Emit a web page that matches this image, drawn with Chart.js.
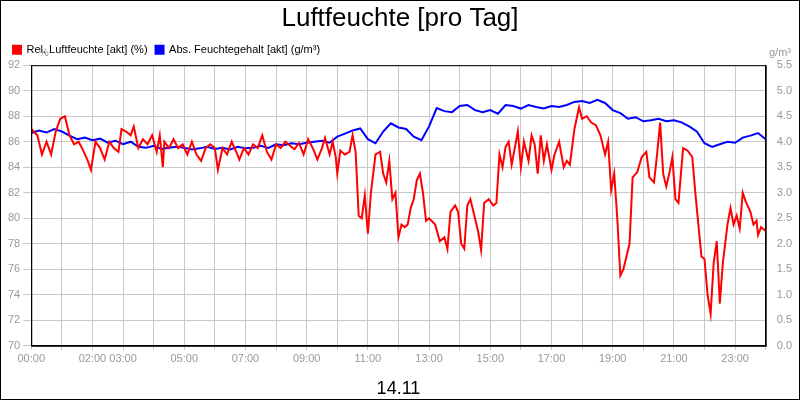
<!DOCTYPE html>
<html><head><meta charset="utf-8">
<script src="https://cdn.jsdelivr.net/npm/chart.js@4/dist/chart.umd.min.js"></script>
<style>
html,body{margin:0;padding:0;background:#fff}
#wrap{width:798px;height:398px;border:1px solid #000;position:relative}
</style></head><body>
<div id="wrap"><canvas id="c" width="798" height="398"></canvas></div>
<script>
// Rel. Luftfeuchte (%), Stunde des Tages
const relHours = [0,0.2,0.35,0.5,0.65,0.8,0.95,1.1,1.25,1.4,1.55,1.7,1.85,1.95,2.1,2.25,2.4,2.55,2.7,2.85,2.95,3.1,3.25,3.35,3.5,3.65,3.8,3.95,4.1,4.2,4.3,4.35,4.5,4.65,4.8,4.95,5.1,5.25,5.4,5.55,5.7,5.85,6.0,6.1,6.25,6.4,6.55,6.7,6.8,6.95,7.1,7.25,7.4,7.55,7.7,7.85,8.0,8.15,8.3,8.45,8.6,8.75,8.9,9.05,9.2,9.35,9.5,9.6,9.75,9.85,9.95,10.0,10.1,10.25,10.4,10.5,10.6,10.7,10.8,10.9,11.0,11.1,11.25,11.4,11.5,11.6,11.7,11.8,11.9,12.0,12.1,12.2,12.3,12.4,12.5,12.6,12.7,12.8,12.9,13.0,13.2,13.35,13.5,13.6,13.7,13.85,13.95,14.05,14.15,14.25,14.35,14.45,14.6,14.7,14.8,14.95,15.1,15.2,15.3,15.4,15.5,15.6,15.7,15.8,15.9,16.0,16.1,16.25,16.35,16.45,16.55,16.65,16.75,16.85,17.0,17.1,17.25,17.4,17.5,17.6,17.75,17.9,18.0,18.15,18.3,18.45,18.6,18.75,18.85,18.95,19.05,19.15,19.25,19.35,19.45,19.55,19.65,19.8,19.95,20.1,20.2,20.35,20.45,20.55,20.65,20.75,20.85,20.95,21.05,21.15,21.3,21.45,21.6,21.7,21.8,21.9,22.0,22.1,22.2,22.3,22.4,22.5,22.6,22.75,22.85,22.95,23.05,23.15,23.25,23.35,23.5,23.6,23.7,23.75,23.85,24];
const relValues = [87,86.5,85,86,85,86.8,87.8,88,86.5,85.8,86,85.3,84.5,83.8,86,85.5,84.6,86,85.5,85.2,87,86.8,86.5,87.2,85.5,86.2,85.8,86.5,85.2,86.5,84,86,85.5,86.2,85.5,85.8,85,86,85,84.5,85.5,85.8,85.5,83.8,85.5,85,86,85.2,84.6,85.5,85,85.8,85.5,86.5,85.2,84.6,85.8,85.5,86,85.7,85.4,85.9,85,86.2,85.5,84.6,85.5,86.3,85,86,84.8,83.5,85.3,85,85.2,86.5,85.2,80.2,80,81.8,78.8,82,85,85.2,83.5,82.8,84.5,81.5,82,78.5,79.5,79.3,79.5,80.8,81.5,83,83.5,82,79.8,80,79.5,78.2,78.5,77.6,80.5,81,80.5,78,77.6,81,81.5,80.5,79,77.5,81.2,81.5,81,81.2,85,84,85.6,86,84.2,85.5,86.8,84,86,84.5,86.5,85.8,83.5,86.5,84.5,85.8,83.8,85,86,84,84.5,84.2,87,88.7,87.8,88,87.5,87.3,86.5,85,86,82.2,83.5,80,75.5,76,77,78,83.2,83.6,84.8,85.2,83.2,82.8,85,87.5,83.5,82.5,83.5,84.8,81.5,81.2,85.5,85.3,84.8,82,79.5,77,76.8,74,72.5,76.5,78.2,73.3,76.5,79.5,80.8,79.5,80.2,79.2,82,81.3,80.5,79.5,79.8,78.7,79.3,79];
// Abs. Feuchtegehalt (g/m³)
const absHours = [0,0.25,0.5,0.75,1,1.25,1.5,1.75,2,2.25,2.5,2.75,3,3.25,3.5,3.75,4,4.25,4.5,4.75,5,5.25,5.5,5.75,6,6.25,6.5,6.75,7,7.25,7.5,7.75,8,8.25,8.5,8.75,9,9.25,9.5,9.75,10,10.25,10.5,10.75,11,11.25,11.5,11.75,12,12.25,12.5,12.75,13,13.25,13.5,13.75,14,14.25,14.5,14.75,15,15.25,15.5,15.75,16,16.25,16.5,16.75,17,17.25,17.5,17.75,18,18.25,18.5,18.75,19,19.25,19.5,19.75,20,20.25,20.5,20.75,21,21.25,21.5,21.75,22,22.25,22.5,22.75,23,23.25,23.5,23.75,24];
const absValues = [4.17,4.22,4.18,4.25,4.2,4.12,4.05,4.08,4.03,4.06,3.98,4.02,3.95,4.0,3.9,3.88,3.92,3.86,3.88,3.9,3.88,3.85,3.87,3.9,3.86,3.88,3.85,3.9,3.87,3.88,3.92,3.88,3.95,3.93,3.97,3.95,3.98,4.0,4.02,3.98,4.1,4.16,4.22,4.26,4.05,3.97,4.2,4.36,4.28,4.25,4.1,4.03,4.3,4.66,4.6,4.58,4.7,4.72,4.62,4.58,4.62,4.55,4.72,4.7,4.65,4.72,4.68,4.65,4.7,4.68,4.72,4.78,4.8,4.76,4.82,4.76,4.62,4.56,4.45,4.48,4.4,4.42,4.45,4.4,4.42,4.38,4.3,4.2,3.97,3.9,3.95,4.0,3.98,4.08,4.12,4.17,4.05,4.03,4.02];
const xLabelHours = [0,2,3,5,7,9,11,13,15,17,19,21,23];

const toPts = (h, v) => h.map((x, i) => ({x: x, y: v[i]}));

const unitsPlugin = {
  id: 'units',
  afterDraw(chart) {
    const {ctx, chartArea} = chart;
    ctx.save();
    ctx.font = '11px Arial, "Liberation Sans"';
    ctx.fillStyle = '#999';
    ctx.textAlign = 'left';
    ctx.fillText('%', 38, 52);
    ctx.textAlign = 'right';
    ctx.fillText('g/m³', 790, 52);
    ctx.fillStyle = '#000';
    ctx.font = '18px Arial, "Liberation Sans"';
    ctx.textAlign = 'center';
    ctx.fillText('14.11', (chartArea.left + chartArea.right) / 2, 388);
    ctx.strokeStyle = '#000';
    ctx.lineWidth = 1;
    ctx.strokeRect(chartArea.left + 0.5, chartArea.top + 0.5, chartArea.width, chartArea.height);
    ctx.restore();
  }
};

new Chart(document.getElementById('c'), {
  type: 'line',
  plugins: [unitsPlugin],
  data: {
    datasets: [
      {label: 'Rel. Luftfeuchte [akt] (%)', data: toPts(relHours, relValues), borderColor: '#ff0000', backgroundColor: '#ff0000', borderWidth: 2, pointRadius: 0, yAxisID: 'y'},
      {label: 'Abs. Feuchtegehalt [akt] (g/m³)', data: toPts(absHours, absValues), borderColor: '#0000ff', backgroundColor: '#0000ff', borderWidth: 2, pointRadius: 0, yAxisID: 'y2'}
    ]
  },
  options: {
    responsive: false, animation: false,
    layout: {padding: {left: 4, right: 4, bottom: 30, top: 0}},
    plugins: {
      tooltip: {enabled: false},
      title: {display: true, text: 'Luftfeuchte [pro Tag]', color: '#000', font: {size: 26, family: 'Arial, "Liberation Sans"', weight: 'normal'}, padding: {top: 2, bottom: 2}},
      legend: {align: 'start', labels: {boxWidth: 8, boxHeight: 8, color: '#000', font: {size: 11, family: 'Arial, "Liberation Sans"'}, padding: 8}}
    },
    scales: {
      x: {type: 'linear', min: 0, max: 24,
        grid: {color: '#c8c8c8', drawTicks: true, tickLength: 4},
        border: {color: '#000'},
        ticks: {stepSize: 1, autoSkip: false, maxRotation: 0, color: '#999', font: {size: 11, family: 'Arial, "Liberation Sans"'},
          callback: v => xLabelHours.includes(v) ? String(v).padStart(2, '0') + ':00' : ''}},
      y: {position: 'left', min: 70, max: 92,
        grid: {color: '#c8c8c8'}, border: {color: '#000'},
        ticks: {stepSize: 2, color: '#999', font: {size: 11, family: 'Arial, "Liberation Sans"'}}},
      y2: {position: 'right', min: 0, max: 5.5,
        grid: {display: false}, border: {color: '#000'},
        ticks: {stepSize: 0.5, color: '#999', font: {size: 11, family: 'Arial, "Liberation Sans"'}, callback: v => v.toFixed(1)}}
    }
  }
});
</script>
</body></html>
